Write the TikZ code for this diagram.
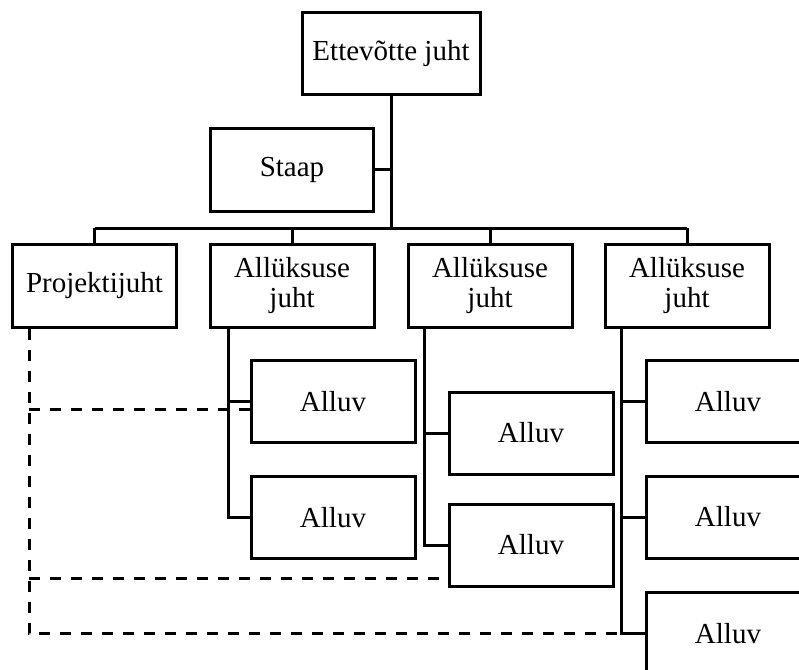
\documentclass[tikz,border=0pt]{standalone}
\usepackage{fontspec}
\setmainfont{Liberation Serif}
\begin{document}
\begin{tikzpicture}[x=1pt,y=-1pt,
  line width=3pt,
  box/.style={draw, rectangle, inner sep=0pt, align=center,
    minimum width=164pt, minimum height=82pt,
    font=\fontsize{29}{30}\selectfont},
  link/.style={line width=3pt},
  proj/.style={line width=3pt, dash pattern=on 11pt off 10pt}]
\useasboundingbox (0,0) rectangle (799,669);
\clip (0,0) rectangle (799,669);

% management level
\node[box, minimum width=178pt, minimum height=81pt] (boss) at (391,53.5) {Ettevõtte juht};
\node[box, minimum width=163pt, minimum height=83pt] (staap) at (292,169.5) {Staap};

% second level
\node[box, minimum height=83pt] (pj) at (94.5,285.5) {Projektijuht};
\node[box, minimum height=83pt] (u1) at (292,285.5) {Allüksuse\\juht};
\node[box, minimum height=83pt] (u2) at (490,285.5) {Allüksuse\\juht};
\node[box, minimum height=83pt] (u3) at (687,285.5) {Allüksuse\\juht};

% subordinates
\node[box] (s11) at (333,401.5) {Alluv};
\node[box] (s12) at (333,517.5) {Alluv};
\node[box] (s21) at (531,433) {Alluv};
\node[box] (s22) at (531,545) {Alluv};
\node[box] (s31) at (728,401.5) {Alluv};
\node[box] (s32) at (728,517) {Alluv};
\node[box] (s33) at (728,633.5) {Alluv};

% helper coordinates: bus level and column spines
\coordinate (bus) at (0,228);
\coordinate (x0) at (29,0);
\coordinate (x1) at (228,0);
\coordinate (x2) at (424,0);
\coordinate (x3) at (621,0);

% top of the tree
\draw[link] (boss.south) -- (boss.south |- bus);
\draw[link] (staap.east) -- (staap.east -| boss.south);
\draw[link] (pj.north |- bus) -- (u3.north |- bus);
\foreach \n in {pj,u1,u2,u3}
  \draw[link] (\n.north) -- (\n.north |- bus);

% column spines and branches
\draw[link] (x1 |- u1.south) |- (s12.west);
\draw[link] (x1 |- s11.west) -- (s11.west);
\draw[link] (x2 |- u2.south) |- (s22.west);
\draw[link] (x2 |- s21.west) -- (s21.west);
\draw[link] (x3 |- u3.south) |- (s33.west);
\draw[link] (x3 |- s31.west) -- (s31.west);
\draw[link] (x3 |- s32.west) -- (s32.west);

% project manager's dashed lines
\coordinate (d1) at (256,409);
\coordinate (d2) at (442,578);
\draw[proj] (x0 |- pj.south) -- (x0 |- s33.west) -- (x3 |- s33.west);
\draw[proj] (x0 |- d1) -- (d1);
\draw[proj] (x0 |- d2) -- (d2);
\end{tikzpicture}
\end{document}
